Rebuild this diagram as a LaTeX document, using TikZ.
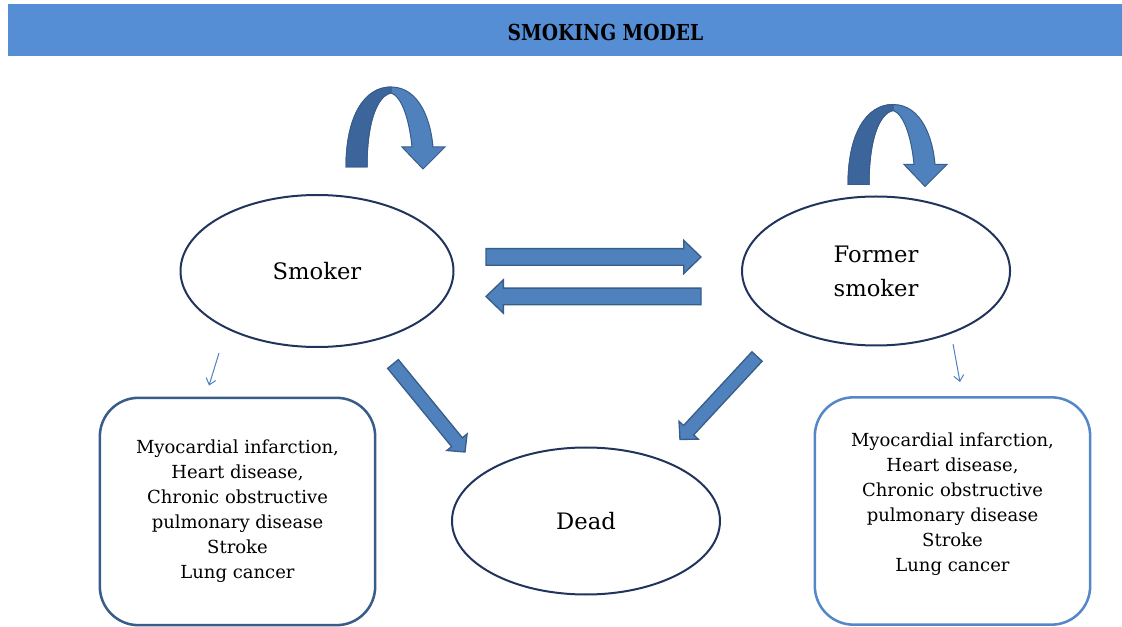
\documentclass[tikz,border=0pt]{standalone}
\usepackage{fontspec}
\setmainfont{DejaVu Serif}
\newfontfamily\titlefont[FakeStretch=0.85]{DejaVu Serif}
\usepackage{xcolor}
\usepackage{tikz}
\usetikzlibrary{shapes.geometric, arrows.meta, positioning, calc}
\definecolor{smbar}{RGB}{85,142,213}
\definecolor{smnavy}{RGB}{33,52,92}
\definecolor{smblue}{RGB}{79,129,189}
\definecolor{smbluedark}{RGB}{60,101,156}
\definecolor{smedge}{RGB}{56,93,138}
\definecolor{smlight}{RGB}{84,135,200}
\tikzset{
  state/.style     = {ellipse, draw=smnavy, line width=1.5pt, align=center,
                      font=\fontsize{17pt}{25.5pt}\selectfont, inner sep=0pt},
  listbox/.style   = {rectangle, rounded corners=29pt, line width=1.9pt, align=center,
                      minimum width=206.5pt, minimum height=170.5pt, inner sep=0pt,
                      font=\fontsize{13.5pt}{18.75pt}\selectfont},
  titletext/.style = {font=\titlefont\bfseries\fontsize{16.5pt}{20pt}\selectfont,
                      inner sep=0pt},
  blockflow/.style n args = {3}{draw=smedge, fill=smblue, line width=1pt,
                      to path={let \p1=(\tikztostart), \p2=(\tikztotarget),
                        \p3=($(\p2)!#3!(\p1)$), \n1={atan2(\y2-\y1,\x2-\x1)} in
                        ($(\p1)+(\n1+90:#1)$) -- ($(\p3)+(\n1+90:#1)$)
                        -- ($(\p3)+(\n1+90:#2)$) -- (\p2) -- ($(\p3)+(\n1-90:#2)$)
                        -- ($(\p3)+(\n1-90:#1)$) -- ($(\p1)+(\n1-90:#1)$) -- cycle}},
  sideflow/.style  = {blockflow={6.25pt}{12.5pt}{13pt}},
  diagflow/.style  = {blockflow={5.2pt}{9.8pt}{9.5pt}},
  thinflow/.style  = {-{Straight Barb[length=4.5pt, width=7.5pt]}, draw=smblue, line width=0.75pt},
  loopflow/.pic    = {
    \filldraw[fill=smblue, draw=smedge, line width=0.75pt]
      (0,0) .. controls (0,-50) and (18,-80) .. (45,-80)
      .. controls (74,-80) and (85,-45) .. (87,-20) -- (99,-20) -- (77,2) -- (56,-20)
      -- (66,-20) .. controls (63,-50) and (55,-71) .. (45,-74)
      .. controls (31,-71) and (21,-45) .. (21,0) -- cycle;
    \filldraw[fill=smbluedark, draw=smedge, line width=0.75pt]
      (0,0) .. controls (0,-50) and (18,-80) .. (45,-80) -- (45,-74)
      .. controls (31,-71) and (21,-45) .. (21,0) -- cycle;
  },
}

\begin{document}
\begin{tikzpicture}[x=0.75pt, y=-0.75pt]
  \useasboundingbox (0,0) rectangle (1122,627);
  \fill[smbar] (8,4) rectangle (1122,56);
  \node[titletext] (title) at (605.5,32.5) {SMOKING MODEL};

  \node[state, minimum width=204.75pt, minimum height=114pt] (smoker) at (317,271) {Smoker};
  \node[state, minimum width=201pt, minimum height=111.75pt, right=214.9pt of smoker] (former) {Former\\smoker};
  \node[state, minimum width=201pt, minimum height=110.25pt] (dead) at (586,521) {Dead};

  \node[listbox, draw=smedge] (lbox) at (237.5,511.5) {Myocardial infarction,\\Heart disease,\\Chronic obstructive\\pulmonary disease\\Stroke\\Lung cancer};
  \node[listbox, draw=smlight, text depth=13.7pt] (rbox) at (952.5,511) {Myocardial infarction,\\Heart disease,\\Chronic obstructive\\pulmonary disease\\Stroke\\Lung cancer};

  \draw[sideflow] ($(smoker.east)+(31.5,-14)$) to ($(former.west)+(-40,-14)$);
  \draw[sideflow] ($(former.west)+(-40,25.5)$) to ($(smoker.east)+(31.5,25.5)$);
  \draw[diagflow] ($(smoker)+(76,93)$) to ($(dead)+(-121,-69)$);
  \draw[diagflow] ($(former)+(-119,85.5)$) to ($(dead)+(94,-81.5)$);

  \draw[thinflow] ($(smoker)+(-98,82)$) -- ($(lbox.north)+(-28.5,-11)$);
  \draw[thinflow] ($(former)+(77,73)$) -- ($(rbox.north)+(7.5,-14)$);

  \pic at ($(smoker.north)+(29,-27)$) {loopflow};
  \pic at ($(former.north)+(-28,-11)$) {loopflow};
\end{tikzpicture}
\end{document}
